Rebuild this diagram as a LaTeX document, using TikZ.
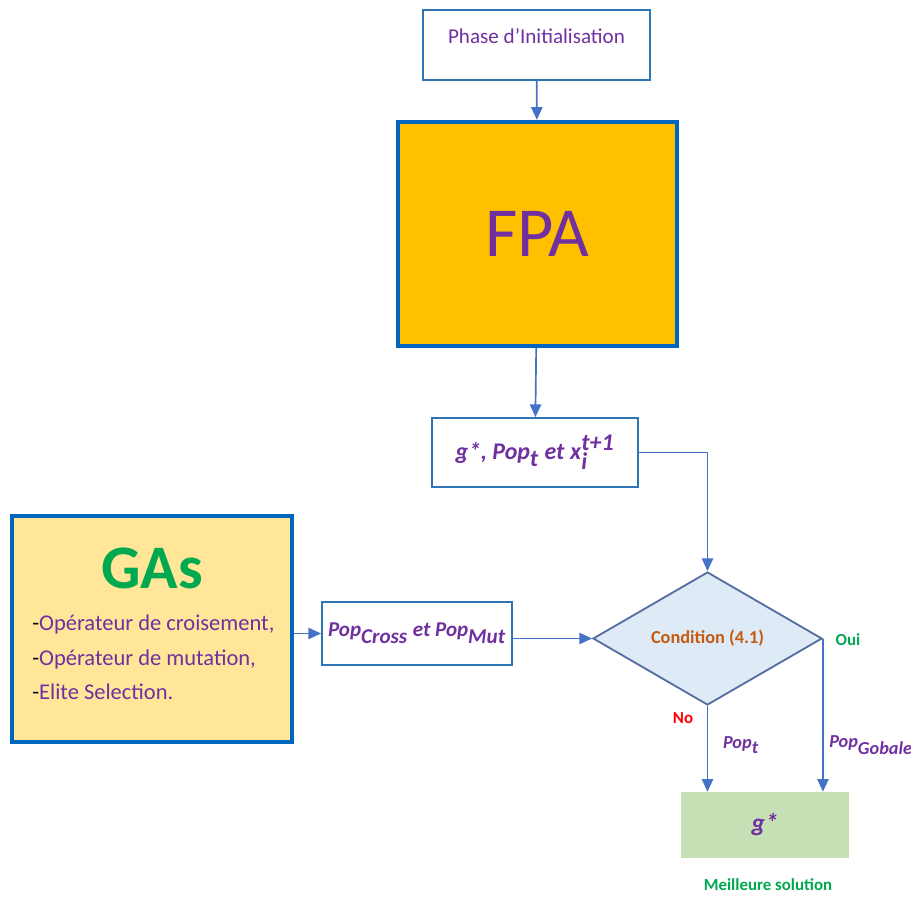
\documentclass[tikz,border=0pt]{standalone}
\usepackage{fontspec}
\setmainfont{Carlito}
\usetikzlibrary{shapes, arrows.meta, positioning, calc}
\definecolor{boxblue}{RGB}{46, 117, 182}
\definecolor{deepblue}{RGB}{0, 102, 190}
\definecolor{linkblue}{RGB}{68, 114, 196}
\definecolor{txtpurple}{RGB}{112, 48, 160}
\definecolor{fpaorange}{RGB}{255, 192, 0}
\definecolor{gasyellow}{RGB}{255, 230, 153}
\definecolor{gasgreen}{RGB}{0, 168, 80}
\definecolor{condblue}{RGB}{222, 235, 247}
\definecolor{condedge}{RGB}{84, 110, 160}
\definecolor{condbrown}{RGB}{197, 90, 17}
\definecolor{bestgreen}{RGB}{197, 224, 180}
\newcommand{\mvar}[1]{\textbf{\textit{#1}}}
\newcommand{\gstar}{\mvar{g\kern0.5pt*}}

\begin{document}
\begin{tikzpicture}[x=0.025cm, y=-0.025cm,
  thinbox/.style={draw=boxblue, line width=1.3pt, fill=white, text=txtpurple, inner sep=0pt},
  bigbox/.style={draw=deepblue, line width=3pt, inner sep=0pt},
  link/.style={draw=linkblue, line width=1.2pt, -{Triangle[length=9pt, width=8pt]}},
  lbl/.style={font=\fontsize{12}{14}\selectfont\bfseries}]
  \useasboundingbox (0,0) rectangle (911,898);

  % boxes
  \node[thinbox, minimum width=5.675cm, minimum height=1.75cm, text depth=13pt] (init) at (536.5,45)
    {\fontsize{15}{18}\selectfont Phase d’Initialisation};
  \node[bigbox, fill=fpaorange, minimum width=6.975cm, minimum height=5.6cm, text=txtpurple] (fpa) at (537.5,234)
    {\fontsize{50}{58}\selectfont FPA};
  \node[thinbox, minimum width=5.15cm, minimum height=1.725cm] (gbest) at (535,452.5)
    {\fontsize{17}{20}\selectfont \gstar\mvar{, Pop}$_{\mvar{t}}$ \mvar{et} $\mvar{x}_{\mvar{i}}^{\mvar{t+1}}$};
  \node[bigbox, fill=gasyellow, minimum width=7cm, minimum height=5.65cm] (gas) at (152,629) {};
  \node[text=gasgreen, font=\fontsize{44}{50}\selectfont\bfseries] (gastitle) at (152,568) {GAs};
  \node[text=txtpurple, anchor=north west, align=left, inner sep=0pt,
        font=\fontsize{16}{24.5}\selectfont] (gaslist) at (32,615)
    {{\color{black}-}Opérateur de croisement,\\ {\color{black}-}Opérateur de mutation,\\ {\color{black}-}Elite Selection.};
  \node[thinbox, minimum width=4.75cm, minimum height=1.575cm] (popmix) at (417,633.5)
    {\fontsize{15}{18}\selectfont \mvar{Pop}$_{\mvar{Cross}}$ \mvar{et Pop}$_{\mvar{Mut}}$};
  \node[diamond, draw=condedge, line width=1.3pt, fill=condblue, inner sep=0pt,
        minimum width=5.725cm, minimum height=3.325cm, text=condbrown] (cond) at (707.5,638.5)
    {\fontsize{13}{16}\selectfont\bfseries Condition (4.1)};
  \node[fill=bestgreen, minimum width=4.2cm, minimum height=1.65cm, text=txtpurple, inner sep=0pt] (best) at (765,825)
    {\fontsize{18}{20}\selectfont \gstar};

  % labels
  \node[lbl, text=gasgreen] (oui) at (848,640) {Oui};
  \node[lbl, text=red] (no) at (683,718) {No};
  \node[lbl, text=gasgreen] (bestlbl) at (768,885) {Meilleure solution};
  \node[text=txtpurple, font=\fontsize{13}{16}\selectfont] (popt) at (741,745) {\mvar{Pop}$_{\mvar{t}}$};
  \node[text=txtpurple, font=\fontsize{13}{16}\selectfont] (popg) at (871,745) {\mvar{Pop}$_{\mvar{Gobale}}$};

  % connectors
  \draw[link] (init) -- (fpa);
  \draw[link] (fpa) -- (gbest);
  \draw[link] (gbest.east) -| (cond.north);
  \draw[link] (gas.east |- popmix) -- (popmix.west);
  \draw[link] (popmix.east |- cond) -- (cond.west);
  \draw[link] (cond.south) -- (cond.south |- best.north);
  \draw[link] (cond.east) -- (cond.east |- best.north);
\end{tikzpicture}
\end{document}
